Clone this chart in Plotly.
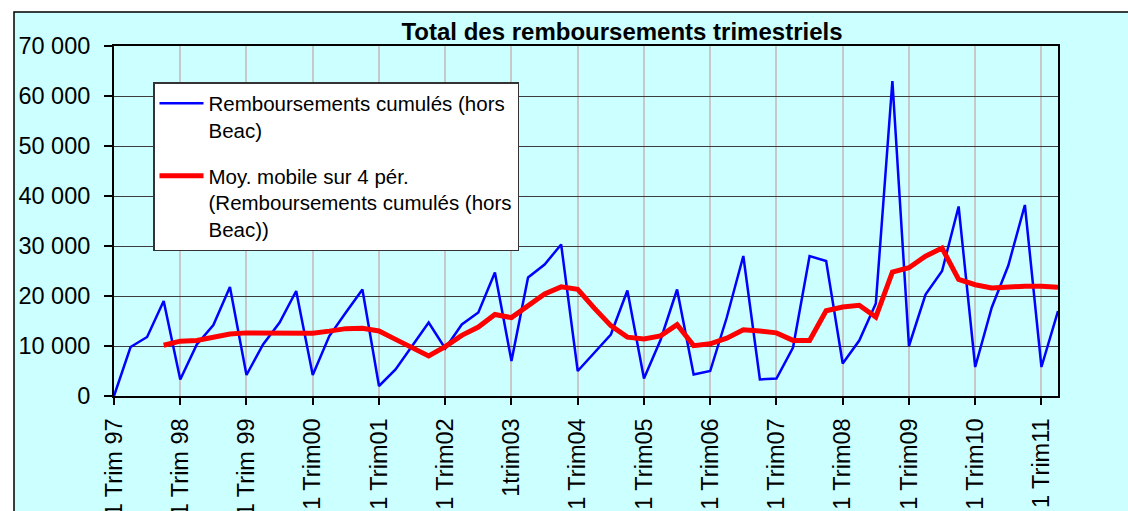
import pandas as pd
import plotly.graph_objects as go

# Quarterly totals, Q1 1997 .. Q2 2011
remboursements = [
    0, 9800, 11800, 19000, 3300, 10300, 14200, 21800,
    4200, 10300, 14700, 21000, 4200, 12000, 16700, 21300,
    2000, 5300, 10000, 14700, 9500, 14300, 16700, 24700,
    7000, 23700, 26300, 30300, 5000, 8700, 12300, 21100,
    3500, 11200, 21300, 4300, 5000, 15700, 28000, 3300,
    3500, 9700, 28000, 27000, 6500, 11100, 18500, 63000,
    10000, 20300, 25000, 37900, 5800, 17700, 26100, 38200,
    5800, 17000,
]
year_labels = [
    "1 Trim 97", "1 Trim 98", "1 Trim 99", "1 Trim00", "1 Trim01",
    "1 Trim02", "1trim03", "1 Trim04", "1 Trim05", "1 Trim06",
    "1 Trim07", "1 Trim08", "1 Trim09", "1 Trim10", "1 Trim11",
]

quarters = list(range(len(remboursements)))
year_ticks = quarters[::4]
# 4-period moving average trend line
moyenne_mobile = pd.Series(remboursements).rolling(4).mean().tolist()

FONT = "Arial, Liberation Sans, sans-serif"
W, H = 1128, 511
L, R, T, B = 114, 70, 46, 115
PW, PH = W - L - R, H - T - B


def px_x(x):
    return (x - L) / PW


def px_y(y):
    return (H - B - y) / PH


fig = go.Figure()
fig.add_trace(go.Scatter(
    x=quarters, y=remboursements, mode="lines",
    name="Remboursements cumulés (hors<br>Beac)",
    line=dict(color="#0000FF", width=2.5),
    legendgroup="a",
))
fig.add_trace(go.Scatter(
    x=quarters, y=moyenne_mobile, mode="lines",
    name="Moy. mobile sur 4 pér.<br>(Remboursements cumulés (hors<br>Beac))",
    line=dict(color="#FF0000", width=5),
    legendgroup="b",
))

fig.update_layout(
    width=W, height=H,
    margin=dict(l=L, r=R, t=T, b=B, autoexpand=False),
    paper_bgcolor="white",
    plot_bgcolor="white",
    separators=", ",
    font=dict(family=FONT, size=23, color="black"),
    title=dict(
        text="<b>Total des remboursements trimestriels</b>",
        font=dict(family=FONT, size=24, color="black"),
        xref="paper", x=px_x(622), xanchor="center",
        yref="container", y=1 - 32 / H, yanchor="middle",
    ),
    showlegend=True,
    legend=dict(
        x=px_x(153), y=px_y(82), xanchor="left", yanchor="top",
        bgcolor="white", bordercolor="#333333", borderwidth=1.5,
        font=dict(family=FONT, size=20.5, color="black"),
        valign="top", tracegroupgap=16, traceorder="grouped",
        itemwidth=44,
    ),
    shapes=[
        dict(
            type="rect", layer="below", xref="paper", yref="paper",
            x0=px_x(14), x1=px_x(W + 20), y0=px_y(H + 20), y1=px_y(12),
            fillcolor="#CCFFFF", line=dict(color="black", width=1.5),
        ),
    ],
)

fig.update_xaxes(
    range=[0, len(remboursements) - 1],
    tickmode="array", tickvals=year_ticks, ticktext=year_labels,
    tickangle=-90, ticks="outside", ticklen=7, tickwidth=2, tickcolor="black",
    ticklabelstandoff=4,
    showgrid=True, gridcolor="#C8C8C8", gridwidth=1.5,
    showline=True, linecolor="black", linewidth=2, mirror=True,
    zeroline=False,
    tickfont=dict(family=FONT, size=23.5, color="black"),
)
fig.update_yaxes(
    range=[0, 70000], dtick=10000, tickformat=",d",
    ticks="outside", ticklen=8, tickwidth=1.5, tickcolor="black",
    ticklabelstandoff=9,
    showgrid=True, gridcolor="#3C3C3C", gridwidth=1.2,
    showline=True, linecolor="black", linewidth=2, mirror=True,
    zeroline=False,
    tickfont=dict(family=FONT, size=23.5, color="black"),
)

fig.write_html("out.html")
